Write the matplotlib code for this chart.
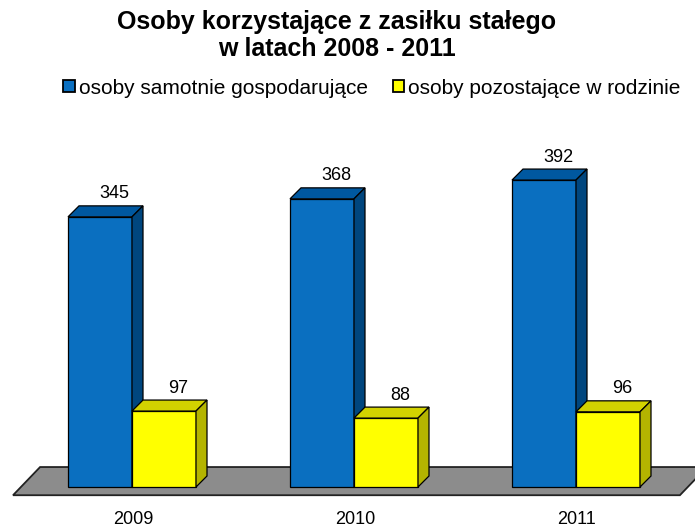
import matplotlib
matplotlib.use("Agg")
import matplotlib.pyplot as plt
from matplotlib.patches import Polygon, Rectangle
import numpy as np

# ---- data ----
years = ["2009", "2010", "2011"]
series_names = ["osoby samotnie gospodarujące", "osoby pozostające w rodzinie"]
samotnie = [345, 368, 392]
rodzina = [97, 88, 96]
title = "Osoby korzystające z zasiłku stałego\nw latach 2008 - 2011"

# ---- style ----
W, H = 695, 529
plt.rcParams['font.family'] = ['Liberation Sans', 'DejaVu Sans']
fig = plt.figure(figsize=(W / 100, H / 100), dpi=100)
ax = fig.add_axes([0, 0, 1, 1])
ax.set_axis_off()

px_x = 222.0          # pixels per category unit
px_y = 0.783          # pixels per value unit
x0_px = 132.0         # pixel x of first category center
y0_px = 42.0          # pixel y (from bottom) of value 0
ax.set_xlim(-x0_px / px_x, (W - x0_px) / px_x)
ax.set_ylim(-y0_px / px_y, (H - y0_px) / px_y)

bw = 64 / px_x        # bar width in category units
DX = 11 / px_x        # depth offsets
DY = 11 / px_y

colors = [
    dict(front="#0A6FC0", top="#0058A0", side="#00467E"),
    dict(front="#FFFF00", top="#D2D200", side="#B4B400"),
]
edge = "black"
lw = 0.9

# floor
fl_front = -10.5
fl_back = 25.5
floor = Polygon([(-0.536, fl_front), (2.468, fl_front), (2.59, fl_back), (-0.414, fl_back)],
                closed=True, facecolor="#8C8C8C", edgecolor="#222222", lw=1.3, zorder=1)
ax.add_patch(floor)

x = np.arange(len(years))

def draw_bar(xl, val, c, z):
    # front
    ax.bar(xl, val, width=bw, align='edge', color=c["front"], edgecolor=edge, lw=lw, zorder=z)
    # top
    ax.add_patch(Polygon([(xl, val), (xl + bw, val), (xl + bw + DX, val + DY), (xl + DX, val + DY)],
                         closed=True, facecolor=c["top"], edgecolor=edge, lw=lw, zorder=z))
    # side
    ax.add_patch(Polygon([(xl + bw, 0), (xl + bw + DX, DY), (xl + bw + DX, val + DY), (xl + bw, val)],
                         closed=True, facecolor=c["side"], edgecolor=edge, lw=lw, zorder=z))

for i in range(len(years)):
    draw_bar(x[i] - bw, samotnie[i], colors[0], 3 + 2 * i)
    draw_bar(x[i], rodzina[i], colors[1], 4 + 2 * i)
    ax.text(x[i] - bw / 2 + DX + 3 / px_x, samotnie[i] + DY + 12 / px_y, str(samotnie[i]),
            ha='center', va='center', fontsize=13, zorder=20)
    ax.text(x[i] + bw / 2 + DX + 3 / px_x, rodzina[i] + DY + 12 / px_y, str(rodzina[i]),
            ha='center', va='center', fontsize=13, zorder=20)
    ax.text(x[i] + 1 / px_x, -(519 - (H - y0_px)) / px_y, years[i],
            ha='center', va='center', fontsize=13)

# title
fig.text(337 / W, 1 - 35.5 / H, title, ha='center', va='center', fontsize=18,
         fontweight='bold', linespacing=1.2)

# legend
handles = [Rectangle((0, 0), 1, 1, facecolor=colors[k]["front"], edgecolor='black', lw=1.3)
           for k in range(2)]
fig.legend(handles, series_names, loc='center', bbox_to_anchor=(372 / W, 1 - 88 / H),
           ncol=2, frameon=False, fontsize=15, handlelength=0.55, handleheight=0.55,
           handletextpad=0.2, columnspacing=1.2, borderaxespad=0, borderpad=0)

fig.savefig("out.png", dpi=100)
